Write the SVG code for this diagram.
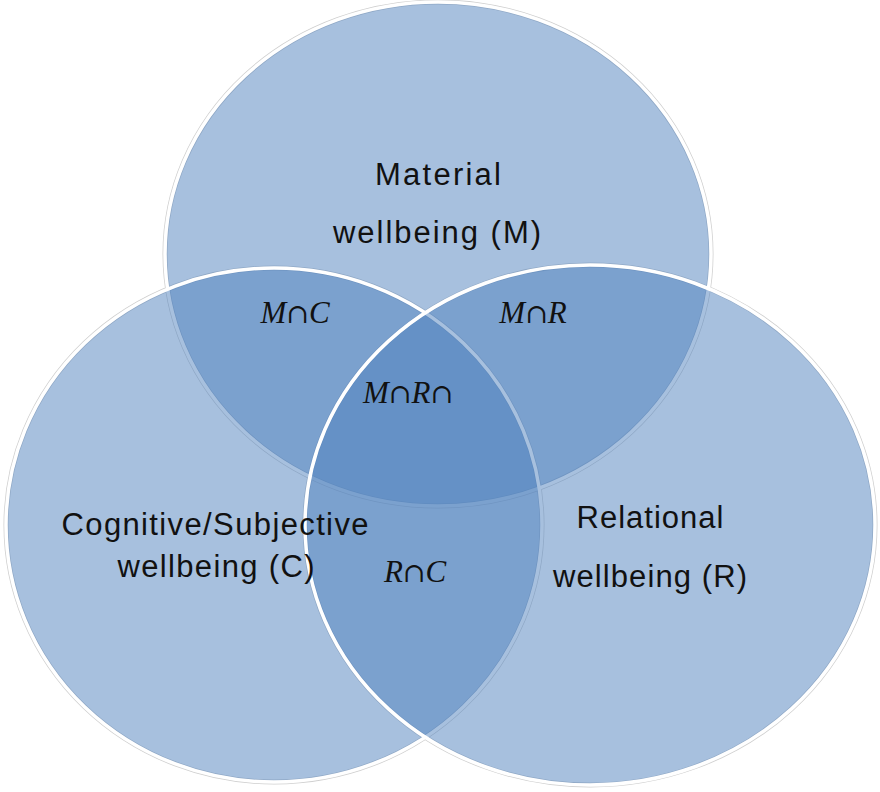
<svg xmlns="http://www.w3.org/2000/svg" width="880" height="792" viewBox="0 0 880 792">
<style>
.set{fill:#4F81BD;fill-opacity:0.5;stroke:#ffffff;stroke-width:3.5}
.halo{fill:none;stroke:#cfcfcf;stroke-width:5}
.lbl{font-family:"Liberation Sans","DejaVu Sans",sans-serif;font-size:31px;fill:#111111;text-anchor:middle}
.math{font-family:"Liberation Serif","DejaVu Serif",serif;font-style:italic;font-size:31px;fill:#111111;text-anchor:middle}
.cap{font-family:"DejaVu Serif",serif;font-style:normal;font-size:27px}
</style>
<rect width="880" height="792" fill="#ffffff"/>
<g id="halos">
<ellipse class="halo" cx="438" cy="254" rx="273" ry="252"/>
<ellipse class="halo" cx="274" cy="525" rx="268" ry="257"/>
<ellipse class="halo" cx="590" cy="525" rx="285" ry="260"/>
</g>
<g id="material">
<ellipse class="set" cx="438" cy="254" rx="273" ry="252"/>
</g>
<g id="cognitive">
<ellipse class="set" cx="274" cy="525" rx="268" ry="257"/>
</g>
<g id="relational">
<ellipse class="set" cx="590" cy="525" rx="285" ry="260"/>
</g>
<g id="material-label">
<text class="lbl" x="438" y="185" textLength="126" lengthAdjust="spacing">Material</text>
<text class="lbl" x="437" y="243" textLength="208" lengthAdjust="spacing">wellbeing (M)</text>
</g>
<g id="cognitive-label">
<text class="lbl" x="215" y="535" textLength="307" lengthAdjust="spacing">Cognitive/Subjective</text>
<text class="lbl" x="216" y="577" textLength="197" lengthAdjust="spacing">wellbeing (C)</text>
</g>
<g id="relational-label">
<text class="lbl" x="650" y="528" textLength="147" lengthAdjust="spacing">Relational</text>
<text class="lbl" x="650" y="587" textLength="194" lengthAdjust="spacing">wellbeing (R)</text>
</g>
<g id="intersections">
<text class="math" x="295" y="323">M<tspan class="cap">∩</tspan>C</text>
<text class="math" x="533" y="323">M<tspan class="cap">∩</tspan>R</text>
<text class="math" x="408" y="403">M<tspan class="cap">∩</tspan>R<tspan class="cap">∩</tspan></text>
<text class="math" x="415" y="582">R<tspan class="cap">∩</tspan>C</text>
</g>
<g id="connectors"/>
</svg>
